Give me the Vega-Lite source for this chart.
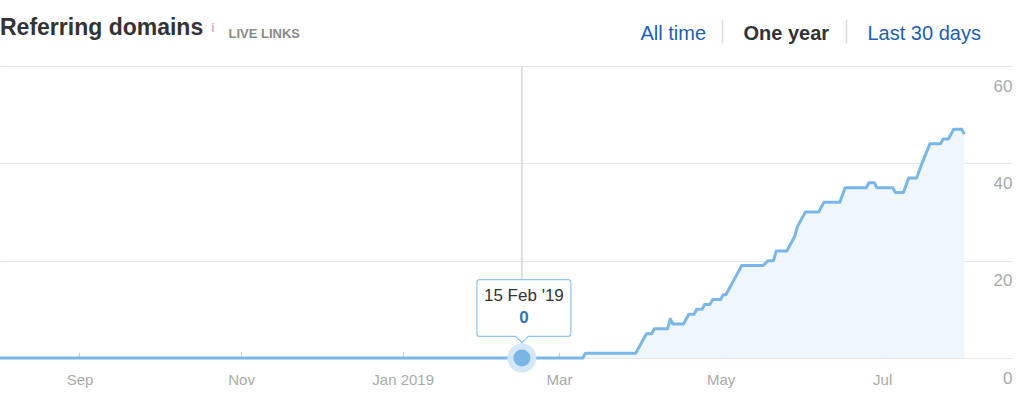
{
  "$schema": "https://vega.github.io/schema/vega-lite/v6.json",
  "width": 1012,
  "height": 292,
  "autosize": {"type": "none"},
  "padding": {"top": 66, "left": 0, "right": 12, "bottom": 37},
  "background": "white",
  "title": {
    "text": "Referring domains",
    "anchor": "start",
    "frame": "group",
    "offset": 0,
    "dy": 40,
    "fontSize": 23,
    "fontWeight": "bold",
    "color": "#333333",
    "font": "Liberation Sans",
    "baseline": "alphabetic"
  },
  "config": {"view": {"stroke": null}, "font": "Liberation Sans"},
  "datasets": {
    "series": [
      {"date": "2018-08-02T00:00:00", "value": 0},
      {"date": "2019-03-10T00:00:00", "value": 0},
      {"date": "2019-03-11T00:00:00", "value": 1},
      {"date": "2019-03-30T00:00:00", "value": 1},
      {"date": "2019-04-03T00:00:00", "value": 5},
      {"date": "2019-04-05T00:00:00", "value": 5},
      {"date": "2019-04-06T00:00:00", "value": 6},
      {"date": "2019-04-11T00:00:00", "value": 6},
      {"date": "2019-04-12T00:00:00", "value": 8},
      {"date": "2019-04-13T00:00:00", "value": 7},
      {"date": "2019-04-17T00:00:00", "value": 7},
      {"date": "2019-04-19T00:00:00", "value": 9},
      {"date": "2019-04-21T00:00:00", "value": 9},
      {"date": "2019-04-22T00:00:00", "value": 10},
      {"date": "2019-04-24T00:00:00", "value": 10},
      {"date": "2019-04-25T00:00:00", "value": 11},
      {"date": "2019-04-27T00:00:00", "value": 11},
      {"date": "2019-04-28T00:00:00", "value": 12},
      {"date": "2019-05-01T00:00:00", "value": 12},
      {"date": "2019-05-02T00:00:00", "value": 13},
      {"date": "2019-05-03T00:00:00", "value": 13},
      {"date": "2019-05-05T00:00:00", "value": 15},
      {"date": "2019-05-06T00:00:00", "value": 16},
      {"date": "2019-05-09T00:00:00", "value": 19},
      {"date": "2019-05-17T00:00:00", "value": 19},
      {"date": "2019-05-19T00:00:00", "value": 20},
      {"date": "2019-05-21T00:00:00", "value": 20},
      {"date": "2019-05-22T00:00:00", "value": 22},
      {"date": "2019-05-26T00:00:00", "value": 22},
      {"date": "2019-05-29T00:00:00", "value": 25},
      {"date": "2019-05-30T00:00:00", "value": 27},
      {"date": "2019-06-02T00:00:00", "value": 30},
      {"date": "2019-06-07T00:00:00", "value": 30},
      {"date": "2019-06-09T00:00:00", "value": 32},
      {"date": "2019-06-15T00:00:00", "value": 32},
      {"date": "2019-06-17T00:00:00", "value": 35},
      {"date": "2019-06-25T00:00:00", "value": 35},
      {"date": "2019-06-26T00:00:00", "value": 36},
      {"date": "2019-06-28T00:00:00", "value": 36},
      {"date": "2019-06-29T00:00:00", "value": 35},
      {"date": "2019-07-05T00:00:00", "value": 35},
      {"date": "2019-07-06T00:00:00", "value": 34},
      {"date": "2019-07-09T00:00:00", "value": 34},
      {"date": "2019-07-11T00:00:00", "value": 37},
      {"date": "2019-07-14T00:00:00", "value": 37},
      {"date": "2019-07-16T00:00:00", "value": 40},
      {"date": "2019-07-19T00:00:00", "value": 44},
      {"date": "2019-07-23T00:00:00", "value": 44},
      {"date": "2019-07-24T00:00:00", "value": 45},
      {"date": "2019-07-26T00:00:00", "value": 45},
      {"date": "2019-07-28T00:00:00", "value": 47},
      {"date": "2019-07-31T00:00:00", "value": 47},
      {"date": "2019-08-01T00:00:00", "value": 46}
    ],
    "focus": [
      {"date": "2019-02-15T00:00:00", "value": 0}
    ],
    "tabs": [
      {"tab": "All time"},
      {"tab": "One year"},
      {"tab": "Last 30 days"}
    ]
  },
  "layer": [
    {
      "encoding": {
        "x": {
          "field": "date",
          "type": "temporal",
          "scale": {"domain": [{"year": 2018, "month": 8, "date": 2}, {"year": 2019, "month": 8, "date": 19}]},
          "axis": {
            "values": [
              {"year": 2018, "month": 9, "date": 1},
              {"year": 2018, "month": 11, "date": 1},
              {"year": 2019, "month": 1, "date": 1},
              {"year": 2019, "month": 3, "date": 1},
              {"year": 2019, "month": 5, "date": 1},
              {"year": 2019, "month": 7, "date": 1}
            ],
            "labelExpr": "month(datum.value) === 0 ? timeFormat(datum.value, '%b %Y') : timeFormat(datum.value, '%b')",
            "domain": false,
            "grid": false,
            "ticks": true,
            "tickSize": -6,
            "tickColor": "#cccccc",
            "tickWidth": 1,
            "labelColor": "#aaaaaa",
            "labelFontSize": 15,
            "labelPadding": 27,
            "labelBaseline": "middle",
            "labelFlush": false,
            "labelOverlap": false,
            "title": "LIVE LINKS",
            "titleX": 228,
            "titleY": -325,
            "titleAlign": "left",
            "titleBaseline": "middle",
            "titleFontSize": 13,
            "titleFontWeight": "bold",
            "titleColor": "#8a8a8a"
          }
        },
        "y": {
          "field": "value",
          "type": "quantitative",
          "scale": {"domain": [0, 60]},
          "axis": {
            "orient": "right",
            "values": [0, 20, 40, 60],
            "grid": true,
            "gridColor": "#e8e8e8",
            "domain": false,
            "ticks": false,
            "tickSize": 0,
            "labelAlign": "right",
            "labelPadding": 0,
            "labelBaseline": "middle",
            "labelOffset": 20,
            "labelColor": "#aaaaaa",
            "labelFontSize": 17,
            "title": "i",
            "titleX": -801,
            "titleY": -35,
            "titleAngle": 0,
            "titleAlign": "left",
            "titleBaseline": "alphabetic",
            "titleFontSize": 12,
            "titleFontWeight": "normal",
            "titleColor": "#999999"
          }
        }
      },
      "layer": [
        {
          "data": {"name": "focus"},
          "mark": {"type": "rule", "color": "#d6d6d6", "strokeWidth": 1.5},
          "encoding": {"y": {"datum": 60}, "y2": {"datum": 0}}
        },
        {
          "data": {"name": "series"},
          "mark": {"type": "area", "color": "#eff6fc", "interpolate": "linear"}
        },
        {
          "data": {"name": "series"},
          "mark": {"type": "line", "color": "#7ab6e6", "strokeWidth": 3, "strokeJoin": "round", "interpolate": "linear"}
        },
        {
          "data": {"name": "focus"},
          "mark": {"type": "point", "filled": true, "size": 841, "color": "#d3e7f8", "opacity": 1}
        },
        {
          "data": {"name": "focus"},
          "mark": {"type": "point", "filled": true, "size": 289, "color": "#79b5e5", "opacity": 1}
        },
        {
          "data": {"name": "focus"},
          "mark": {
            "type": "point",
            "shape": "M -0.84 -1.566 L 0.92 -1.566 Q 0.98 -1.566 0.98 -1.506 L 0.98 -0.492 Q 0.98 -0.432 0.92 -0.432 L 0.13 -0.432 L 0 -0.312 L -0.13 -0.432 L -0.84 -0.432 Q -0.9 -0.432 -0.9 -0.492 L -0.9 -1.506 Q -0.9 -1.566 -0.84 -1.566 Z",
            "size": 10000,
            "filled": true,
            "fill": "#ffffff",
            "stroke": "#8ec3ec",
            "strokeWidth": 1.2,
            "opacity": 1
          }
        },
        {
          "data": {"name": "focus"},
          "mark": {"type": "text", "dy": -62, "dx": 2, "fontSize": 17, "color": "#333333", "baseline": "middle", "align": "center"},
          "encoding": {"text": {"field": "date", "type": "temporal", "format": "%d %b '%y"}}
        },
        {
          "data": {"name": "focus"},
          "mark": {"type": "text", "dy": -40, "dx": 2, "fontSize": 17, "fontWeight": "bold", "color": "#3574c0", "baseline": "middle", "align": "center"},
          "encoding": {"text": {"field": "value", "type": "quantitative"}}
        }
      ]
    },
    {
      "data": {"name": "tabs"},
      "mark": {"type": "rule", "opacity": 0},
      "encoding": {
        "x": {
          "field": "tab",
          "type": "nominal",
          "sort": null,
          "scale": {"type": "band", "paddingInner": 0, "paddingOuter": 0, "range": [598, 970]},
          "axis": {
            "orient": "top",
            "offset": 23,
            "domain": false,
            "grid": false,
            "ticks": true,
            "tickBand": "extent",
            "tickSize": 24,
            "tickWidth": 1.5,
            "tickColor": "#dddddd",
            "tickOpacity": {"condition": {"test": "datum.value === 'All time' || datum.value === 'One year'", "value": 1}, "value": 0},
            "labelAlign": "left",
            "labelBaseline": "middle",
            "labelPadding": -14,
            "labelOffset": {"condition": {"test": "datum.value === 'All time'", "value": -20}, "value": -41},
            "labelFontSize": 20,
            "labelColor": {"condition": {"test": "datum.value === 'One year'", "value": "#333333"}, "value": "#1d5fb3"},
            "labelFontWeight": {"condition": {"test": "datum.value === 'One year'", "value": "bold"}, "value": "normal"},
            "labelAngle": 0,
            "title": null
          }
        }
      }
    }
  ],
  "resolve": {"scale": {"x": "independent"}, "axis": {"x": "independent"}}
}
